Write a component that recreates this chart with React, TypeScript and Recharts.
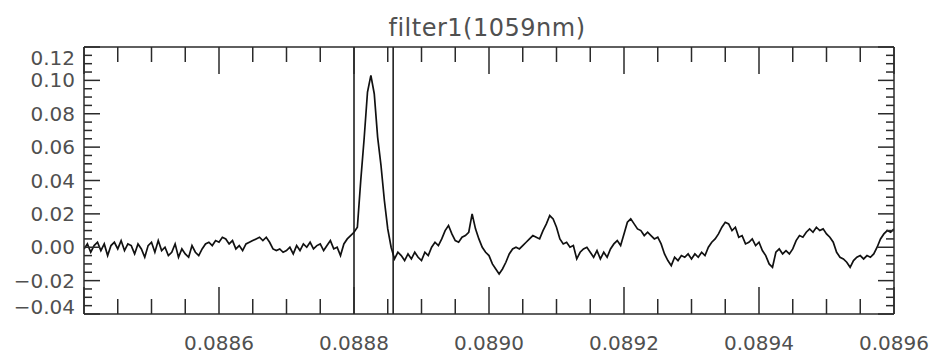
import React from 'react';
import { LineChart, Line, XAxis, YAxis, ReferenceLine } from 'recharts';

const TITLE = 'filter1(1059nm)';
const X_START = 0.0884;
const X_STEP = 0.000005;
const Y_VALUES = [
  -0.001, 0.002, -0.003, 0.001, 0.003, -0.002, 0.002, -0.005, 0.001, 0.003,
  -0.001, 0.004, -0.002, 0.002, 0.001, -0.004, 0.002, -0.001, -0.006, 0.001,
  0.003, -0.003, 0.004, -0.002, 0.0, -0.005, -0.003, 0.002, -0.006, -0.001,
  -0.004, -0.006, 0.001, -0.003, -0.005, -0.001, 0.002, 0.003, 0.001, 0.004,
  0.003, 0.006, 0.005, 0.002, 0.004, -0.001, 0.001, -0.002, 0.002, 0.003,
  0.004, 0.005, 0.006, 0.004, 0.006, 0.003, -0.001, -0.002, -0.001, -0.003,
  -0.002, 0.0, -0.004, 0.001, -0.002, 0.002, 0.0, 0.003, -0.001, 0.001,
  0.002, -0.002, 0.001, 0.004, -0.001, 0.0, -0.005, 0.002, 0.005, 0.007,
  0.009, 0.012, 0.04, 0.065, 0.093, 0.103, 0.092, 0.066, 0.049, 0.028,
  0.011, 0.0, -0.007, -0.003, -0.005, -0.008, -0.004, -0.007, -0.003, -0.006,
  -0.008, -0.003, -0.005, 0.0, 0.003, 0.001, 0.005, 0.01, 0.013, 0.008,
  0.004, 0.003, 0.006, 0.007, 0.009, 0.02, 0.011, 0.005, 0.0, -0.003,
  -0.005, -0.01, -0.013, -0.016, -0.013, -0.009, -0.004, -0.001, 0.0, -0.001,
  0.001, 0.003, 0.005, 0.007, 0.006, 0.005, 0.01, 0.014, 0.019, 0.017,
  0.012, 0.005, 0.002, 0.003, 0.0, 0.001, -0.007, -0.003, -0.001, 0.0,
  -0.003, -0.006, -0.002, -0.007, -0.003, -0.006, -0.001, 0.002, 0.004, 0.001,
  0.008, 0.015, 0.017, 0.014, 0.011, 0.01, 0.007, 0.009, 0.007, 0.005,
  0.006, 0.002, -0.004, -0.008, -0.011, -0.006, -0.008, -0.005, -0.006, -0.004,
  -0.007, -0.004, -0.006, -0.003, -0.005, 0.0, 0.003, 0.005, 0.008, 0.012,
  0.015, 0.014, 0.01, 0.012, 0.006, 0.007, 0.002, 0.003, 0.005, 0.001,
  0.003, -0.002, -0.005, -0.01, -0.012, -0.003, -0.001, -0.004, -0.002, -0.004,
  -0.001, 0.004, 0.007, 0.006, 0.009, 0.011, 0.009, 0.012, 0.01, 0.011,
  0.008, 0.006, 0.003, -0.003, -0.006, -0.007, -0.009, -0.012, -0.008, -0.006,
  -0.005, -0.007, -0.005, -0.006, -0.004, 0.0, 0.005, 0.008, 0.01, 0.009, 0.011,
];
const X_TICKS = [
  0.0884, 0.08845, 0.0885, 0.08855, 0.0886, 0.08865, 0.0887, 0.08875, 0.0888,
  0.08885, 0.0889, 0.08895, 0.089, 0.08905, 0.0891, 0.08915, 0.0892, 0.08925,
  0.0893, 0.08935, 0.0894, 0.08945, 0.0895, 0.08955, 0.0896,
];
const Y_TICKS = [
  -0.04, -0.035, -0.03, -0.025, -0.02, -0.015, -0.01, -0.005, 0.0, 0.005, 0.01,
  0.015, 0.02, 0.025, 0.03, 0.035, 0.04, 0.045, 0.05, 0.055, 0.06, 0.065, 0.07,
  0.075, 0.08, 0.085, 0.09, 0.095, 0.1, 0.105, 0.11, 0.115, 0.12,
];
const X_DOMAIN = [0.0884, 0.0896];
const Y_DOMAIN = [-0.04, 0.12];
const MARKER_LINES = [0.0888, 0.088858];

const data = Y_VALUES.map((y, i) => ({ x: X_START + i * X_STEP, y }));

const TEXT_COLOR = '#505050';
const AXIS_COLOR = '#2a2a2a';
const FONT = '"DejaVu Sans", sans-serif';

const isMajor = (v: number, step: number) =>
  Math.abs(v / step - Math.round(v / step)) < 1e-4;
const fmtX = (v: number) => v.toFixed(4);
const fmtY = (v: number) => (v < -1e-9 ? '\u2212' : '') + Math.abs(v).toFixed(2);

const XTick = (side: 'top' | 'bottom') => (props: any) => {
  const { x, y, payload } = props;
  const v = payload.value as number;
  const major = isMajor(v, 0.0002);
  const len = major ? 27 : 15;
  const dir = side === 'bottom' ? -1 : 1;
  return (
    <g>
      <line x1={x} x2={x} y1={y} y2={y + dir * len} stroke={AXIS_COLOR} strokeWidth={1.5} />
      {side === 'bottom' && major && v > X_DOMAIN[0] + 1e-6 && (
        <text x={x} y={y + 36} textAnchor="middle" fill={TEXT_COLOR} fontSize={20} fontFamily={FONT}>
          {fmtX(v)}
        </text>
      )}
    </g>
  );
};

const YTick = (side: 'left' | 'right') => (props: any) => {
  const { x, y, payload } = props;
  const v = payload.value as number;
  const major = isMajor(v, 0.02);
  const len = major ? 16 : 8;
  const dir = side === 'left' ? 1 : -1;
  let ly = y;
  if (Math.abs(v - Y_DOMAIN[1]) < 1e-9) ly = y + 11;
  if (Math.abs(v - Y_DOMAIN[0]) < 1e-9) ly = y - 7;
  return (
    <g>
      <line x1={x} x2={x + dir * len} y1={y} y2={y} stroke={AXIS_COLOR} strokeWidth={1.5} />
      {side === 'left' && major && (
        <text x={x - 9} y={ly + 7} textAnchor="end" fill={TEXT_COLOR} fontSize={20} fontFamily={FONT}>
          {fmtY(v)}
        </text>
      )}
    </g>
  );
};

export default function App() {
  return (
    <div style={{ position: 'relative', width: 930, height: 348, background: '#fff' }}>
      <LineChart width={930} height={348} data={data} margin={{ top: 0, right: 0, bottom: 0, left: 0 }}>
        <XAxis
          xAxisId="b"
          dataKey="x"
          type="number"
          domain={X_DOMAIN}
          allowDataOverflow
          ticks={X_TICKS}
          interval={0}
          orientation="bottom"
          height={42}
          tickSize={0}
          tickMargin={0}
          tickLine={false}
          axisLine={{ stroke: AXIS_COLOR, strokeWidth: 1.5 }}
          tick={XTick('bottom')}
        />
        <XAxis
          xAxisId="t"
          dataKey="x"
          type="number"
          domain={X_DOMAIN}
          allowDataOverflow
          ticks={X_TICKS}
          interval={0}
          orientation="top"
          height={39}
          tickSize={0}
          tickMargin={0}
          tickLine={false}
          axisLine={{ stroke: AXIS_COLOR, strokeWidth: 1.5 }}
          tick={XTick('top')}
        />
        <YAxis
          yAxisId="l"
          type="number"
          domain={Y_DOMAIN}
          allowDataOverflow
          ticks={Y_TICKS}
          interval={0}
          orientation="left"
          width={76}
          tickSize={0}
          tickMargin={0}
          tickLine={false}
          axisLine={{ stroke: AXIS_COLOR, strokeWidth: 1.5 }}
          tick={YTick('left')}
        />
        <YAxis
          yAxisId="r"
          type="number"
          domain={Y_DOMAIN}
          allowDataOverflow
          ticks={Y_TICKS}
          interval={0}
          orientation="right"
          width={44}
          tickSize={0}
          tickMargin={0}
          tickLine={false}
          axisLine={{ stroke: AXIS_COLOR, strokeWidth: 1.5 }}
          tick={YTick('right')}
        />
        {MARKER_LINES.map((m) => (
          <ReferenceLine key={m} x={m} xAxisId="b" yAxisId="l" stroke="#111" strokeWidth={1.5} />
        ))}
        <Line
          xAxisId="b"
          yAxisId="l"
          dataKey="y"
          type="linear"
          stroke="#111"
          strokeWidth={1.7}
          dot={false}
          isAnimationActive={false}
        />
        <Line
          xAxisId="t"
          yAxisId="r"
          dataKey="y"
          type="linear"
          stroke="none"
          dot={false}
          isAnimationActive={false}
          legendType="none"
        />
      </LineChart>
      <div
        style={{
          position: 'absolute',
          left: 479,
          top: 20,
          transform: 'translate(-50%, -50%)',
          fontFamily: FONT,
          fontSize: 24,
          lineHeight: 1,
          whiteSpace: 'nowrap',
          color: TEXT_COLOR,
          letterSpacing: 0.5,
        }}
      >
        {TITLE}
      </div>
    </div>
  );
}
